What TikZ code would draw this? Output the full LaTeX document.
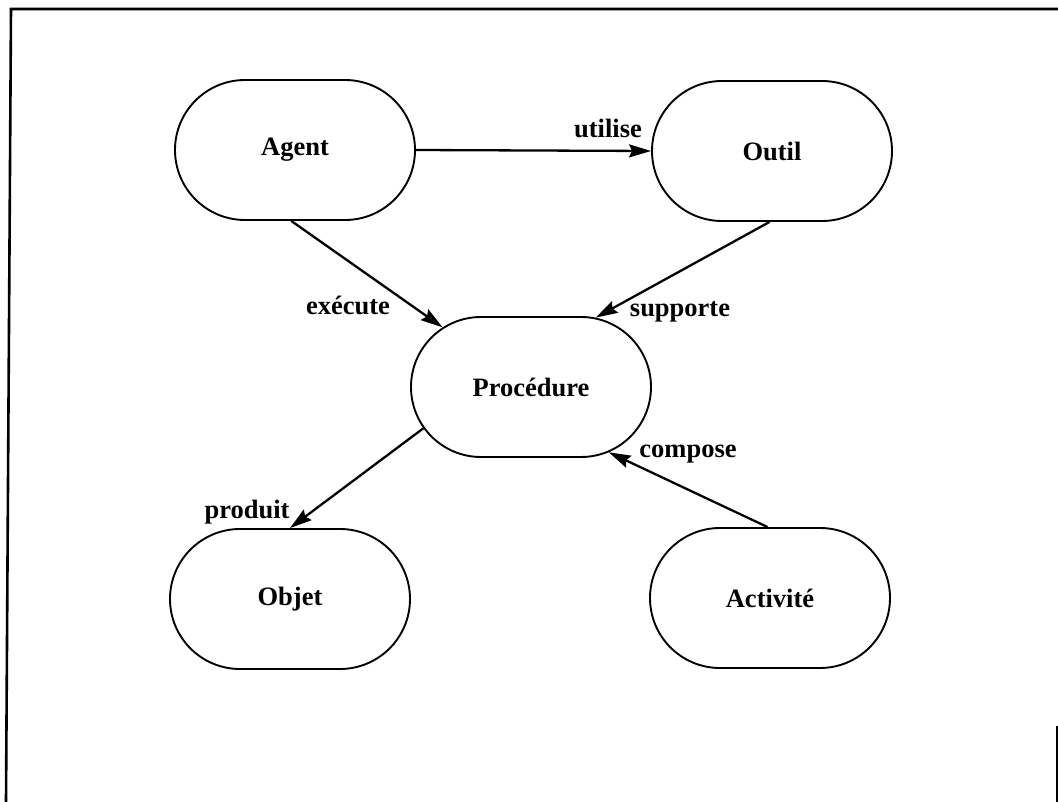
\documentclass[tikz,border=0pt]{standalone}
\usepackage{fontspec}
\setmainfont{Liberation Serif}
\usetikzlibrary{shapes.misc,arrows.meta}
\begin{document}
\begin{tikzpicture}[x=1pt,y=-1pt,
  concept/.style={rounded rectangle, draw, line width=1.9pt,
    minimum width=240pt, minimum height=140pt, inner sep=0pt,
    font=\fontsize{26.5}{30}\selectfont\bfseries},
  rel/.style={draw, line width=2.3pt,
    -{Stealth[length=22pt,width=13pt,inset=3pt]}},
  lbl/.style={inner sep=0pt, anchor=base,
    font=\fontsize{26.5}{30}\selectfont\bfseries}]
  \useasboundingbox (0,0) rectangle (1058,802);
  % frame
  \draw[line width=2.6pt] (6,802) -- (11,9) -- (1058,9);
  \draw[line width=2pt] (1057,726) -- (1057,802);

  % concepts
  \node[concept] (agent)    at (295,150) {Agent};
  \node[concept] (outil)    at (772,151) {Outil};
  \node[concept] (proc)     at (531,387) {Procédure};
  \node[concept] (objet)    at (290,599) {Objet};
  \node[concept] (activite) at (770,598) {Activité};

  % relations
  \draw[rel] (agent.east) -- (outil.west);
  \draw[rel] (agent.267) -- (proc.146);
  \draw[rel] (outil.268) -- (proc.47);
  \draw[rel] (proc.201) -- (objet.north);
  \draw[rel] (activite.92) -- (proc.-40);

  % relation names
  \node[lbl] (lutilise)  at (608,138) {utilise};
  \node[lbl] (lexecute)  at (348,315) {exécute};
  \node[lbl] (lsupporte) at (680,317) {supporte};
  \node[lbl] (lproduit)  at (247,518) {produit};
  \node[lbl] (lcompose)  at (688,457) {compose};
\end{tikzpicture}
\end{document}
